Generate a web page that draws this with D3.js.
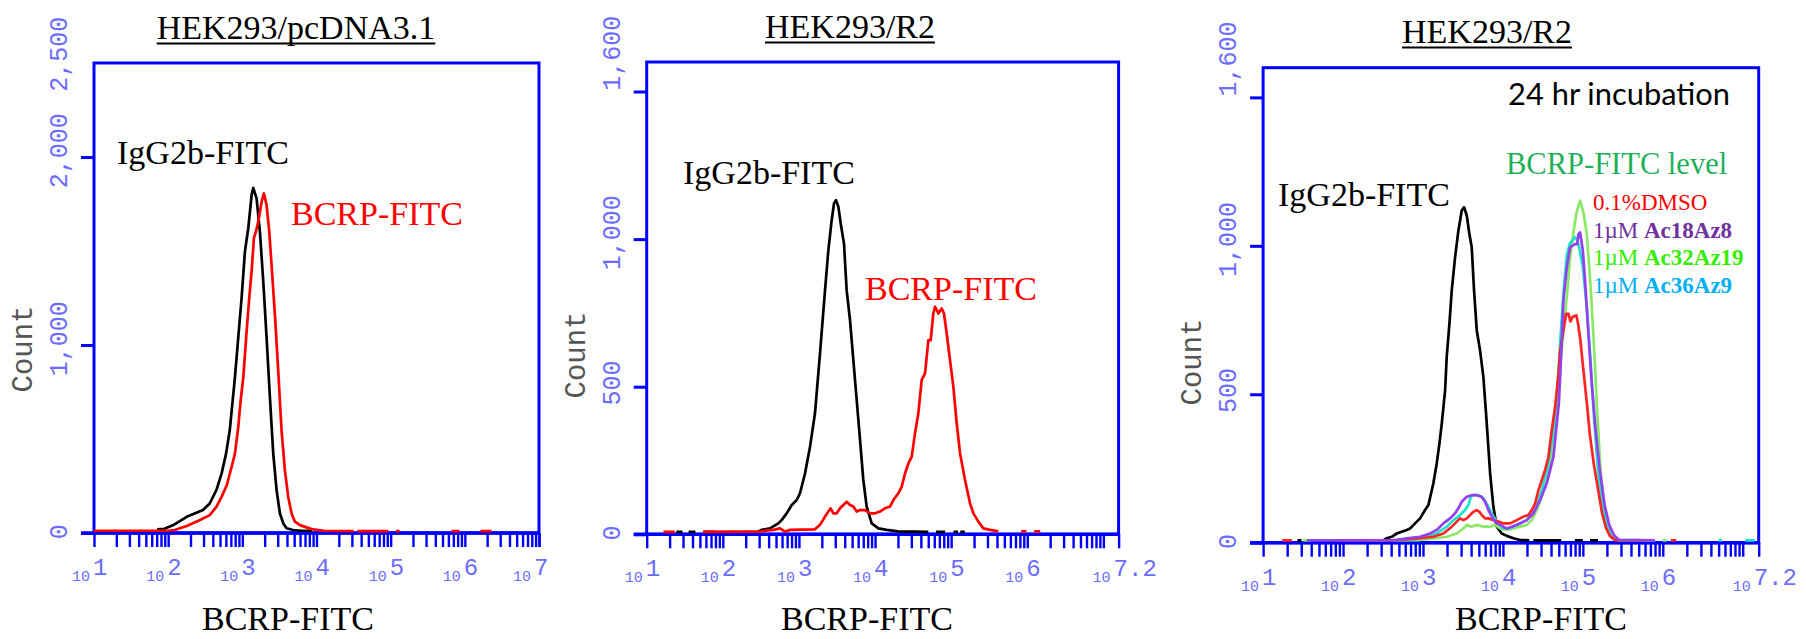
<!DOCTYPE html>
<html>
<head>
<meta charset="utf-8">
<script src="https://cdn.jsdelivr.net/npm/d3@7"></script>
<style>
  body { margin: 0; background: #fff; }
  svg { display: block; }
</style>
</head>
<body>
<svg id="chart"></svg>
<script>
// ---- data: [log10(BCRP-FITC), count]; null breaks the line ----
const p1IgG = [[1.85,20],[1.95,22],[2.07,42],[2.25,86],[2.47,122],[2.56,157],[2.65,228],[2.72,316],[2.78,421],[2.83,545],[2.90,827],[2.945,1039],[2.99,1250],[3.035,1497],[3.08,1621],[3.125,1797],[3.147,1836],[3.192,1780],[3.237,1603],[3.282,1339],[3.327,1039],[3.372,721],[3.417,421],[3.462,228],[3.507,104],[3.552,51],[3.597,25],[3.686,16],[3.80,12],[3.94,12]];
const p1BCRP = [[1.0,12],[1.5,12],[2.0,12],[2.09,16],[2.25,37],[2.43,69],[2.56,95],[2.65,139],[2.72,192],[2.79,254],[2.855,351],[2.90,421],[2.945,563],[2.977,704],[3.013,827],[3.058,1074],[3.093,1250],[3.125,1391],[3.156,1568],[3.183,1603],[3.215,1656],[3.26,1762],[3.291,1806],[3.327,1744],[3.363,1603],[3.394,1427],[3.439,1162],[3.484,862],[3.529,545],[3.574,333],[3.619,192],[3.664,104],[3.709,60],[3.776,42],[3.866,30],[3.956,19],[4.1,12],[4.5,10],null,[4.55,10],[4.97,10],null,[5.07,10],[5.12,10],null,[5.82,10],[5.93,10],null,[6.21,10],[6.36,10]];

const p2IgG = [[1.39,8],[1.47,8],null,[1.55,8],[1.64,8],null,[1.75,8],[1.89,8],null,[2.45,8],[2.51,15],[2.62,20],[2.73,37],[2.773,48],[2.839,71],[2.905,99],[2.97,116],[3.014,139],[3.08,206],[3.146,297],[3.211,410],[3.277,613],[3.343,827],[3.387,963],[3.43,1064],[3.461,1121],[3.487,1132],[3.518,1110],[3.549,1053],[3.592,985],[3.627,827],[3.671,726],[3.715,590],[3.759,455],[3.803,319],[3.846,184],[3.89,94],[3.956,37],[4.044,20],[4.153,15],[4.3,10],[4.7,8],null,[4.8,8],[4.92,8],null,[5.03,8],[5.09,8],null,[5.12,8],[5.18,8]];
const p2BCRP = [[1.22,8],[1.37,8],null,[1.74,8],[2.5,10],[2.664,15],[2.751,20],[2.817,9],[2.883,15],[3.211,17],[3.277,32],[3.343,60],[3.387,77],[3.417,88],[3.452,71],[3.496,71],[3.54,88],[3.584,99],[3.627,110],[3.671,99],[3.715,94],[3.759,77],[3.803,82],[3.868,82],[3.934,71],[4.0,71],[4.065,77],[4.131,88],[4.197,94],[4.241,116],[4.306,139],[4.35,161],[4.394,206],[4.438,240],[4.482,263],[4.525,342],[4.569,410],[4.613,523],[4.657,545],[4.701,658],[4.731,658],[4.766,748],[4.788,771],[4.832,748],[4.876,765],[4.906,748],[4.941,681],[4.985,590],[5.029,500],[5.073,376],[5.117,274],[5.182,184],[5.248,105],[5.292,71],[5.358,43],[5.423,20],[5.511,15],[5.62,10],null,[5.92,10],[5.99,10],null,[6.09,10],[6.17,10]];

const p3IgG = [[1.43,8],[1.48,8],null,[1.79,8],[1.89,8],null,[2.51,9],[2.546,15],[2.609,20],[2.672,31],[2.734,37],[2.797,43],[2.838,48],[2.901,65],[2.964,82],[3.026,110],[3.068,127],[3.13,200],[3.172,267],[3.206,334],[3.235,401],[3.277,513],[3.297,626],[3.331,738],[3.36,850],[3.402,962],[3.443,1051],[3.485,1119],[3.514,1130],[3.548,1102],[3.581,1040],[3.61,995],[3.639,850],[3.673,715],[3.714,648],[3.756,558],[3.798,401],[3.84,233],[3.881,121],[3.923,54],[3.986,31],[4.048,23],[4.132,15],[4.215,9],[4.33,8],null,[4.38,8],[4.73,8],null,[4.9,8],[5.0,8],null,[5.09,8],[5.19,8]];
const p3Ac32 = [[1.5,8],[1.6,8],null,[2.3,8],[2.964,9],[3.172,15],[3.297,20],[3.423,31],[3.506,48],[3.548,60],[3.61,54],[3.673,60],[3.756,54],[3.84,54],[3.902,60],[3.965,48],[4.048,43],[4.132,48],[4.215,54],[4.299,60],[4.361,76],[4.424,110],[4.486,155],[4.549,211],[4.591,267],[4.632,345],[4.674,457],[4.72,600],[4.76,720],[4.80,830],[4.84,960],[4.88,1040],[4.92,1110],[4.966,1152],[5.01,1110],[5.049,1040],[5.08,930],[5.10,850],[5.14,660],[5.18,440],[5.22,250],[5.27,110],[5.33,35],[5.40,10],[5.9,8],null,[6.0,8],[6.05,8]];
const p3Ac36 = [[2.6,8],[2.9,12],[3.047,20],[3.172,31],[3.297,54],[3.381,76],[3.464,93],[3.527,110],[3.569,127],[3.598,155],[3.631,160],[3.694,160],[3.756,149],[3.819,121],[3.881,88],[3.944,65],[4.007,48],[4.069,48],[4.173,60],[4.299,76],[4.403,110],[4.486,177],[4.57,267],[4.632,379],[4.682,513],[4.72,690],[4.76,850],[4.80,970],[4.84,1010],[4.88,1020],[4.90,1029],[4.93,1020],[4.95,1000],[5.0,930],[5.05,790],[5.09,640],[5.14,420],[5.19,240],[5.24,130],[5.30,55],[5.37,15],[5.45,8],[5.9,8],null,[6.70,8],[6.74,8],null,[7.03,8],[7.15,8]];
const p3DMSO = [[1.24,8],[1.36,8],null,[1.95,8],[2.6,8],[2.964,15],[3.13,20],[3.256,31],[3.36,54],[3.423,71],[3.464,82],[3.506,76],[3.548,82],[3.589,93],[3.631,104],[3.673,110],[3.706,104],[3.735,93],[3.777,82],[3.819,82],[3.881,76],[3.944,71],[4.007,65],[4.09,65],[4.173,76],[4.257,88],[4.319,93],[4.361,110],[4.403,132],[4.445,177],[4.486,211],[4.528,245],[4.57,289],[4.611,379],[4.653,457],[4.695,569],[4.716,648],[4.757,715],[4.791,771],[4.82,771],[4.845,745],[4.87,760],[4.92,766],[4.945,730],[4.97,680],[5.0,600],[5.05,470],[5.09,360],[5.14,260],[5.19,180],[5.24,100],[5.29,50],[5.34,22],[5.40,9],[5.8,8],null,[6.10,8],[6.17,8]];
const p3Ac18 = [[1.55,8],[2.672,9],[2.797,15],[2.964,20],[3.089,31],[3.172,43],[3.256,65],[3.339,82],[3.402,99],[3.443,116],[3.485,138],[3.548,155],[3.61,160],[3.673,160],[3.735,155],[3.777,138],[3.819,110],[3.861,88],[3.902,71],[3.965,60],[4.048,48],[4.111,54],[4.215,65],[4.299,76],[4.382,99],[4.465,143],[4.549,200],[4.632,289],[4.70,470],[4.73,640],[4.757,816],[4.80,928],[4.84,995],[4.90,1006],[4.93,1006],[4.945,1040],[4.966,1045],[5.0,984],[5.03,872],[5.07,704],[5.11,540],[5.16,380],[5.21,250],[5.27,130],[5.33,60],[5.39,25],[5.45,10],[5.9,8]];

const p1YTicks = [1000, 2000];
const p1YLabels = [0, 1000, 2000, 2500];
const p23YTicks = [500, 1000, 1500];
const p23YLabels = [0, 500, 1000, 1600];
const p1XLabels = [1, 2, 3, 4, 5, 6, 7];
const p23XLabels = [1, 2, 3, 4, 5, 6, 7.2];

const titles = ['HEK293/pcDNA3.1', 'HEK293/R2', 'HEK293/R2'];

// ---- drawing ----
const BLUE = '#0000ff';
const LABEL_BLUE = '#6c6cff';
const SERIF = '"Liberation Serif", "Times New Roman", serif';
const MONO = '"Liberation Mono", "Courier New", monospace';

const svg = d3.select('#chart').attr('width', 1806).attr('height', 639);

const panels = [
  { left: 94, right: 539, top: 63, bottom: 533, xMax: 7, yMax: 2500,
    yTicks: p1YTicks, yLabels: p1YLabels, xLabels: p1XLabels,
    title: titles[0], titleX: 296, titleY: 39, xTitleX: 288, countY: 349,
    curves: [{ data: p1IgG, color: '#000' }, { data: p1BCRP, color: '#ff0000' }],
    notes: [
      { x: 117, y: 164, text: 'IgG2b-FITC', color: '#000', size: 34 },
      { x: 291, y: 225, text: 'BCRP-FITC', color: '#ff0000', size: 34 }
    ] },
  { left: 646.7, right: 1118.6, top: 62, bottom: 534.3, xMax: 7.2, yMax: 1600,
    yTicks: p23YTicks, yLabels: p23YLabels, xLabels: p23XLabels,
    title: titles[1], titleX: 850, titleY: 38, xTitleX: 867, countY: 355,
    curves: [{ data: p2IgG, color: '#000' }, { data: p2BCRP, color: '#ff0000' }],
    notes: [
      { x: 683, y: 184, text: 'IgG2b-FITC', color: '#000', size: 34 },
      { x: 865, y: 300, text: 'BCRP-FITC', color: '#ff0000', size: 34 }
    ] },
  { left: 1263.1, right: 1758.7, top: 67.7, bottom: 542.7, xMax: 7.2, yMax: 1600,
    yTicks: p23YTicks, yLabels: p23YLabels, xLabels: p23XLabels,
    title: titles[2], titleX: 1487, titleY: 43, xTitleX: 1541, countY: 362,
    curves: [
      { data: p3IgG, color: '#000' },
      { data: p3Ac32, color: '#8be866' },
      { data: p3Ac36, color: '#1fe0c8' },
      { data: p3DMSO, color: '#ff2323' },
      { data: p3Ac18, color: '#9340f0' }
    ],
    notes: [
      { x: 1508, y: 105, text: '24 hr incubation', color: '#000', size: 31, family: 'Lato, "Open Sans", sans-serif', width: 222 },
      { x: 1506, y: 174, text: 'BCRP-FITC level', color: '#1fb05a', size: 30.5 },
      { x: 1278, y: 206, text: 'IgG2b-FITC', color: '#000', size: 34 },
      { x: 1593, y: 210, text: '0.1%DMSO', color: '#ff0000', size: 23 },
      { x: 1593, y: 237.7, text: '1µM ', bold: 'Ac18Az8', color: '#7030a0', size: 23 },
      { x: 1593, y: 265, text: '1µM ', bold: 'Ac32Az19', color: '#33ee00', size: 23 },
      { x: 1593, y: 292.7, text: '1µM ', bold: 'Ac36Az9', color: '#00b0f0', size: 23 }
    ] }
];

panels.forEach(drawPanel);

function drawPanel(p) {
  const g = svg.append('g');
  const xMaxVal = Math.pow(10, p.xMax);
  const x = d3.scaleLog().domain([10, xMaxVal]).range([p.left, p.right]);
  const y = d3.scaleLinear().domain([0, p.yMax]).range([p.bottom, p.top]);

  // log ticks: 1..9 x 10^n inside the domain, plus the domain end
  const xTicks = [];
  for (let n = 1; n <= 7; n++) {
    for (let m = 1; m <= 9; m++) {
      const v = m * Math.pow(10, n);
      if (v <= xMaxVal * 1.0001) xTicks.push(v);
    }
  }
  xTicks.push(xMaxVal);

  g.append('g')
    .attr('transform', `translate(0,${p.bottom})`)
    .call(d3.axisBottom(x).tickValues(xTicks).tickSize(14).tickFormat(''))
    .call(a => a.select('.domain').remove())
    .selectAll('line').attr('stroke', BLUE).attr('stroke-width', 2.4);

  g.append('g')
    .attr('transform', `translate(${p.left},0)`)
    .call(d3.axisLeft(y).tickValues([0].concat(p.yTicks)).tickSize(13).tickFormat(''))
    .call(a => a.select('.domain').remove())
    .selectAll('line').attr('stroke', BLUE).attr('stroke-width', 3);

  // frame
  g.append('rect')
    .attr('x', p.left).attr('y', p.top)
    .attr('width', p.right - p.left).attr('height', p.bottom - p.top)
    .attr('fill', 'none').attr('stroke', BLUE).attr('stroke-width', 3);
  g.append('line')
    .attr('x1', p.left - 13).attr('x2', p.right)
    .attr('y1', p.bottom).attr('y2', p.bottom)
    .attr('stroke', BLUE).attr('stroke-width', 3.5);

  // histograms
  const line = d3.line()
    .defined(d => d !== null)
    .x(d => x(Math.pow(10, d[0])))
    .y(d => y(d[1]));
  p.curves.forEach(c => {
    g.append('path')
      .attr('d', line(c.data))
      .attr('fill', 'none')
      .attr('stroke', c.color)
      .attr('stroke-width', 2.7)
      .attr('stroke-linejoin', 'round');
  });

  // y tick labels (rotated)
  p.yLabels.forEach(v => {
    const label = d3.format(',')(v);
    let shift = label.length * 1.25;
    if (v === p.yMax) shift += 2.5;
    g.append('text')
      .attr('transform', `translate(${p.left - 27},${y(v) - shift}) rotate(-90)`)
      .attr('text-anchor', 'middle')
      .attr('font-family', MONO).attr('font-size', 25)
      .attr('fill', LABEL_BLUE)
      .text(label);
  });

  g.append('text')
    .attr('transform', `translate(${p.left - 62},${p.countY}) rotate(-90)`)
    .attr('text-anchor', 'middle')
    .attr('font-family', MONO).attr('font-size', 29)
    .attr('fill', '#555')
    .text('Count');

  // x tick labels: small "10" + larger exponent
  p.xLabels.forEach((e, i) => {
    const tx = x(Math.pow(10, e));
    const last = i === p.xLabels.length - 1;
    const off = last ? 5 : 1;
    g.append('text')
      .attr('x', tx - off - 3).attr('y', p.bottom + 48)
      .attr('text-anchor', 'end')
      .attr('font-family', MONO).attr('font-size', 15)
      .attr('fill', LABEL_BLUE)
      .text('10');
    g.append('text')
      .attr('x', tx - off).attr('y', p.bottom + 42)
      .attr('font-family', MONO).attr('font-size', 24)
      .attr('fill', LABEL_BLUE)
      .text(String(e));
  });

  // x title
  svg.append('text')
    .attr('x', p.xTitleX).attr('y', 630)
    .attr('text-anchor', 'middle')
    .attr('font-family', SERIF).attr('font-size', 34)
    .attr('fill', '#000')
    .text('BCRP-FITC');

  // underlined title
  const t = svg.append('text')
    .attr('x', p.titleX).attr('y', p.titleY)
    .attr('text-anchor', 'middle')
    .attr('font-family', SERIF).attr('font-size', 34)
    .attr('fill', '#000')
    .text(p.title);
  const tw = t.node().getComputedTextLength();
  svg.append('line')
    .attr('x1', p.titleX - tw / 2).attr('x2', p.titleX + tw / 2)
    .attr('y1', p.titleY + 4.5).attr('y2', p.titleY + 4.5)
    .attr('stroke', '#000').attr('stroke-width', 1.8);

  // annotations
  p.notes.forEach(n => {
    const txt = g.append('text')
      .attr('x', n.x).attr('y', n.y)
      .attr('font-family', n.family || SERIF)
      .attr('font-size', n.size)
      .attr('fill', n.color);
    txt.append('tspan').text(n.text);
    if (n.bold) txt.append('tspan').attr('font-weight', 'bold').text(n.bold);
    if (n.width) txt.attr('textLength', n.width).attr('lengthAdjust', 'spacingAndGlyphs');
  });
}
</script>
</body>
</html>
